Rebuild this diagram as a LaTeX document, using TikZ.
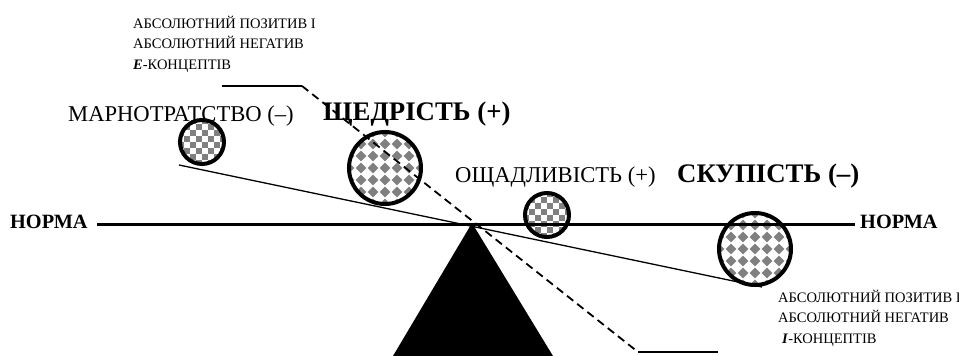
\documentclass[tikz,border=0pt]{standalone}
\usepackage{fontspec}
\setmainfont{Liberation Serif}
\begin{document}
\begin{tikzpicture}[x=1pt,y=-1pt,
  lbl/.style={font=\fontsize{22.6}{26}\selectfont, anchor=base west, inner sep=0pt},
  blbl/.style={font=\fontsize{26.8}{30}\selectfont\bfseries, anchor=base west, inner sep=0pt},
  norma/.style={font=\fontsize{20.3}{24}\selectfont\bfseries, anchor=base west, inner sep=0pt},
  note/.style={font=\fontsize{14.5}{20.5}\selectfont, anchor=base west, inner sep=0pt, align=left},
  ballrim/.style={draw=black, line width=4pt},
  beam/.style={line width=3pt},
  tilt/.style={line width=1.3pt},
  tiltdash/.style={line width=1.8pt, dash pattern=on 8pt off 5pt},
  pat/.style={fill=gray}]
\useasboundingbox (0,0) rectangle (959,356);

% balls: checker pattern
\foreach \cx/\cy/\nm in {202/142/b1, 547/215/b3}{
  \coordinate (\nm) at (\cx,\cy);
  \begin{scope}
    \clip (\nm) circle (22);
    \begin{scope}[shift={(\nm)}]
      \foreach \a in {-2,...,2}{\foreach \b in {-2,...,2}{
        \fill[pat] (12*\a,12*\b) rectangle +(6,6);
        \fill[pat] (12*\a+6,12*\b+6) rectangle +(6,6);
      }}
    \end{scope}
  \end{scope}
  \draw[ballrim] (\nm) circle (22);
}
% balls: diamond pattern
\foreach \cx/\cy/\nm in {385/168/b2, 755/249/b4}{
  \coordinate (\nm) at (\cx,\cy);
  \begin{scope}
    \clip (\nm) circle (36);
    \begin{scope}[shift={(\nm)}]
      \foreach \a in {-3,...,3}{\foreach \b in {-3,...,3}{
        \fill[pat] (12*\a-5.3,12*\b) -- (12*\a,12*\b-5.3) -- (12*\a+5.3,12*\b) -- (12*\a,12*\b+5.3) -- cycle;
      }}
    \end{scope}
  \end{scope}
  \draw[ballrim] (\nm) circle (36);
}

% fulcrum
\coordinate (apex) at (472,223);
\coordinate (fl) at (393,356);
\coordinate (fr) at (553,356);
\fill[black] (apex) -- (fl) -- (fr) -- cycle;

% beam (norm)
\coordinate (bl) at (97,224);
\coordinate (br) at (855,224);
\draw[beam] (bl) -- (br);

% tilted line (I-concepts)
\coordinate (tl) at (179,165);
\coordinate (tr) at (762,287);
\draw[tilt] (tl) -- (tr);

% dashed line (E-concepts)
\coordinate (e0) at (222,86);
\coordinate (e1) at (302,86);
\coordinate (e2) at (638,352);
\coordinate (e3) at (718,352);
\draw[tilt] (e0) -- (e1);
\draw[tiltdash] (e1) -- (e2);
\draw[tilt] (e2) -- (e3);

% labels
\node[norma] (nl) at (10,228) {НОРМА};
\node[norma] (nr) at (860,228) {НОРМА};
\node[lbl] (marn) at (68,121) {МАРНОТРАТСТВО (–)};
\node[blbl] (shch) at (323,120) {ЩЕДРІСТЬ (+)};
\node[lbl] (oshch) at (455,182) {ОЩАДЛИВІСТЬ (+)};
\node[blbl] (skup) at (677,182) {СКУПІСТЬ (–)};
\node[note] (etext) at (133,69) {АБСОЛЮТНИЙ ПОЗИТИВ І\\АБСОЛЮТНИЙ НЕГАТИВ\\\textbf{\textit{E}}-КОНЦЕПТІВ};
\node[note] (itext) at (778,343) {АБСОЛЮТНИЙ ПОЗИТИВ І\\АБСОЛЮТНИЙ НЕГАТИВ\\\hspace{4pt}\textbf{\textit{I}}-КОНЦЕПТІВ};
\end{tikzpicture}
\end{document}
